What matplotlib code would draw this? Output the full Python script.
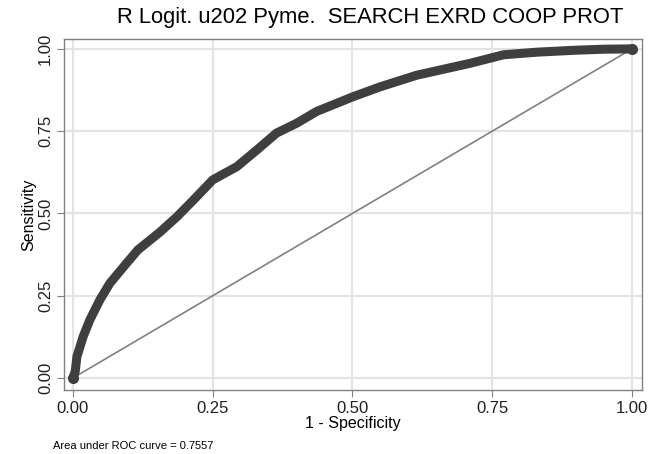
import matplotlib.pyplot as plt
import numpy as np

plt.rcParams['font.family'] = ['Liberation Sans', 'DejaVu Sans']

# ROC curve
fpr = [0, 0.004, 0.007, 0.018, 0.030, 0.048, 0.066, 0.096, 0.116, 0.156, 0.186,
       0.215, 0.25, 0.293, 0.329, 0.364, 0.40, 0.436, 0.5, 0.55, 0.615, 0.71,
       0.77, 0.83, 0.9, 0.95, 1.0]
tpr = [0, 0.02, 0.065, 0.125, 0.176, 0.237, 0.288, 0.349, 0.389, 0.444, 0.49,
       0.54, 0.602, 0.642, 0.693, 0.744, 0.774, 0.81, 0.854, 0.885, 0.92, 0.956,
       0.982, 0.99, 0.996, 0.999, 1.0]
ticks = [0, 0.25, 0.5, 0.75, 1.0]
tick_labels = ['0.00', '0.25', '0.50', '0.75', '1.00']
auc_text = 'Area under ROC curve = 0.7557'

fig = plt.figure(figsize=(6.51, 4.54), dpi=100)
ax = fig.add_axes([64 / 651, 64 / 454, 578 / 651, 351 / 454])

ax.plot([0, 1], [0, 1], color='#808080', lw=1.2, zorder=2)
ax.plot(fpr, tpr, color='#3f3f3f', lw=6.5, solid_capstyle='round',
        solid_joinstyle='round', zorder=3)
ax.plot([fpr[0], fpr[-1]], [tpr[0], tpr[-1]], 'o', color='#3f3f3f', ms=7, zorder=3)

ax.set_xlim(-0.0161, 1.0179)
ax.set_ylim(-0.0365, 1.030)
ax.set_xticks(ticks)
ax.set_xticklabels(tick_labels)
ax.set_yticks(ticks)
ax.set_yticklabels(tick_labels, rotation=90, va='center')
ax.grid(True, color='#e3e3e3', lw=1.5)
ax.set_axisbelow(True)
for s in ax.spines.values():
    s.set_color('#808080')
    s.set_linewidth(1)
ax.tick_params(direction='out', length=5, color='#808080', labelsize=12,
               labelcolor='#202020', pad=3)

ax.set_xlabel('1 - Specificity', fontsize=11.5, labelpad=0)
ax.set_ylabel('Sensitivity', fontsize=11.5, labelpad=1)

fig.text(370 / 651, 1 - 18 / 454, 'R Logit. u202 Pyme.  SEARCH EXRD COOP PROT',
         ha='center', va='center', fontsize=15.8)
fig.text(53 / 651, 1 - 446 / 454, auc_text, ha='left', va='center', fontsize=8)

fig.savefig('out.png', dpi=100)
